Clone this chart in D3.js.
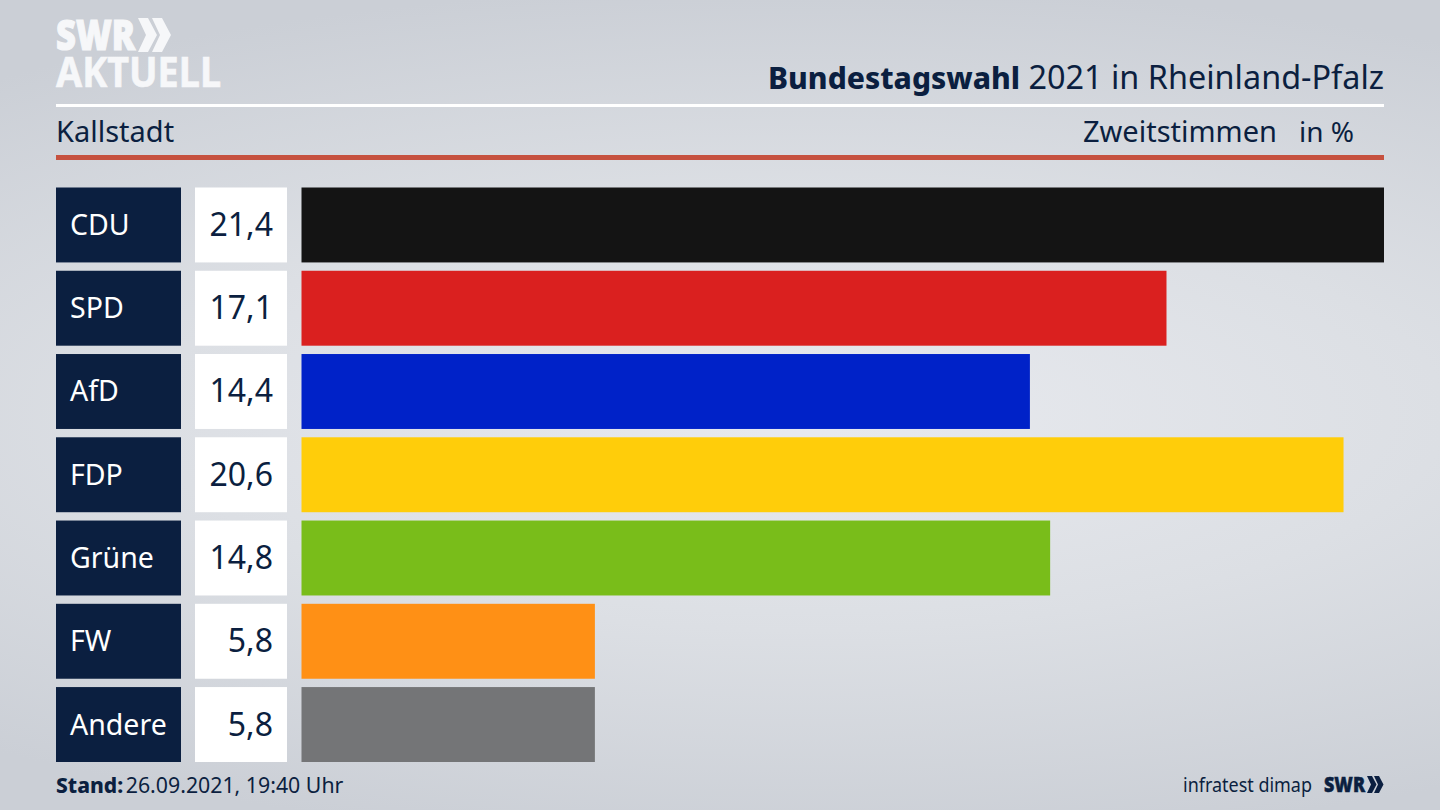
<!DOCTYPE html>
<html><head><meta charset="utf-8">
<script src="https://cdn.jsdelivr.net/npm/d3@7"></script>
<style>html,body{margin:0;padding:0;background:#d5d8de;overflow:hidden}svg{display:block}text{font-family:"Noto Sans",sans-serif}</style>
</head><body><svg id="c" width="1440" height="810"></svg>
<script>
const parties = ["CDU","SPD","AfD","FDP","Grüne","FW","Andere"];
const values = [21.4,17.1,14.4,20.6,14.8,5.8,5.8];
const valueLabels = ["21,4","17,1","14,4","20,6","14,8","5,8","5,8"];
const colors = ["#141414","#da201f","#0022c8","#ffcd0a","#79bd1a","#ff9015","#747577"];
const navy = "#0b1f40";

const svg = d3.select("#c");
const defs = svg.append("defs");
const g = defs.append("radialGradient").attr("id","bg").attr("gradientUnits","userSpaceOnUse")
  .attr("cx",800).attr("cy",415).attr("r",430)
  .attr("gradientTransform","translate(800 415) scale(3 1) translate(-800 -415)");
[[0,"#e8eaef"],[0.5,"#dcdfe4"],[1,"#cbcfd6"]].forEach(s=>g.append("stop").attr("offset",s[0]).attr("stop-color",s[1]));
svg.append("rect").attr("width",1440).attr("height",810).attr("fill","url(#bg)");

const x = d3.scaleLinear().domain([0,21.4]).range([301.5,1384]);
const y = d3.scaleBand().domain(parties).range([187.5,762]).paddingInner(0.1).paddingOuter(0);
const rows = svg.append("g").selectAll("g").data(parties).join("g");
rows.append("rect").attr("x",56).attr("y",d=>y(d)).attr("width",125).attr("height",y.bandwidth()).attr("fill",navy);
rows.append("rect").attr("x",195).attr("y",d=>y(d)).attr("width",92).attr("height",y.bandwidth()).attr("fill","#fff");
rows.append("rect").attr("x",x(0)).attr("y",d=>y(d)).attr("height",y.bandwidth())
  .attr("width",(d,i)=>x(values[i])-x(0)).attr("fill",(d,i)=>colors[i]);
rows.append("text").attr("x",70).attr("y",d=>y(d)+y.bandwidth()/2+10).attr("fill","#fff").attr("font-size",28.5).text(d=>d);
rows.append("text").attr("x",273).attr("y",d=>y(d)+y.bandwidth()/2+11).attr("text-anchor","end").attr("fill",navy).attr("font-size",32).text((d,i)=>valueLabels[i]);

// header
svg.append("rect").attr("x",56).attr("y",104).attr("width",1328).attr("height",3).attr("fill","#fff");
svg.append("rect").attr("x",56).attr("y",155).attr("width",1328).attr("height",5).attr("fill","#c6513f");
const t = svg.append("text").attr("x",1384).attr("y",89).attr("text-anchor","end").attr("fill",navy).attr("font-size",32.4);
t.append("tspan").attr("font-weight",800).attr("font-size",30).text("Bundestagswahl");
t.append("tspan").text(" 2021 in Rheinland-Pfalz");
svg.append("text").attr("x",56).attr("y",142).attr("fill",navy).attr("font-size",29).text("Kallstadt");
svg.append("text").attr("x",1277).attr("y",142).attr("text-anchor","end").attr("fill",navy).attr("font-size",29).text("Zweitstimmen");
svg.append("text").attr("x",1354).attr("y",142).attr("text-anchor","end").attr("fill",navy).attr("font-size",28).text("in %");

// logo
const chev = (sel,px,py,s,fill)=>{
  sel.append("path").attr("transform",`translate(${px},${py}) scale(${s})`).attr("fill",fill)
   .attr("d","M0 0L10 0L19 17L10 34L0 34L8 17Z M14 0L24 0L33 17L24 34L14 34L22 17Z");
};
const logoWhite = "#f6f7f9";
svg.append("text").attr("x",56).attr("y",50).attr("fill",logoWhite).attr("stroke",logoWhite).attr("stroke-width",1.2)
  .attr("font-size",42).attr("font-weight",900).attr("font-family","Roboto").attr("textLength",79).attr("lengthAdjust","spacingAndGlyphs").text("SWR");
chev(svg,138,18,1,logoWhite);
svg.append("text").attr("x",56).attr("y",87).attr("fill",logoWhite).attr("stroke",logoWhite).attr("stroke-width",0.6)
  .attr("font-size",41).attr("font-weight",700).attr("font-family","Roboto").attr("textLength",165).attr("lengthAdjust","spacingAndGlyphs").text("AKTUELL");

// footer
const s = svg.append("text").attr("x",56).attr("y",793).attr("fill",navy).attr("font-size",21.3);
s.append("tspan").attr("font-weight",800).attr("font-size",21).text("Stand:");
s.append("tspan").attr("dx",-3).text(" 26.09.2021, 19:40 Uhr");
svg.append("text").attr("x",1183).attr("y",792).attr("fill",navy).attr("font-size",20).attr("textLength",129).attr("lengthAdjust","spacingAndGlyphs").text("infratest dimap");
svg.append("text").attr("x",1324).attr("y",792).attr("fill",navy).attr("stroke",navy).attr("stroke-width",0.5).attr("font-size",21).attr("font-weight",900).attr("font-family","Roboto").attr("textLength",41).attr("lengthAdjust","spacingAndGlyphs").text("SWR");
chev(svg,1367,776,0.5,navy);
</script></body></html>
